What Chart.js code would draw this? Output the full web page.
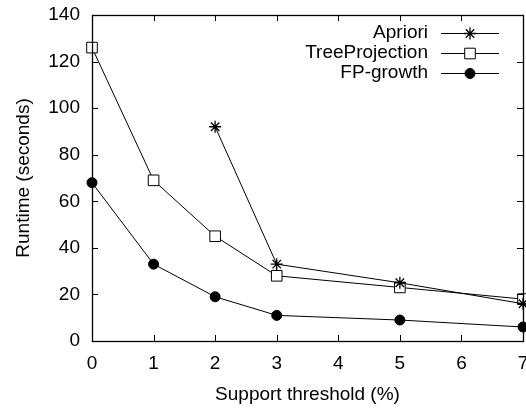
<!DOCTYPE html>
<html>
<head>
<meta charset="utf-8">
<script src="https://cdn.jsdelivr.net/npm/chart.js@4"></script>
<style>
  html, body { margin: 0; padding: 0; background: #fff; }
  #wrap { width: 526px; height: 408px; }
</style>
</head>
<body>
<div id="wrap"><canvas id="grafico" width="526" height="408"></canvas></div>
<script>
// datos
var seriesNames = ['Apriori', 'TreeProjection', 'FP-growth'];
var supportApriori = [2, 3, 5, 7];
var runtimeApriori = [92, 33, 25, 16];
var supportAll = [0, 1, 2, 3, 5, 7];
var runtimeTree = [126, 69, 45, 28, 23, 18];
var runtimeFP = [68, 33, 19, 11, 9, 6];
var xTicks = [0, 1, 2, 3, 4, 5, 6, 7];
var yTicks = [0, 20, 40, 60, 80, 100, 120, 140];

function pares(xs, ys) {
  return xs.map(function (x, i) { return { x: x, y: ys[i] }; });
}

var fuente = 'Liberation Sans, Arial, Helvetica, sans-serif';
var tamLetra = 19;

// sin relleno extra por las etiquetas de los extremos
function sinPadding() { return { left: 0, top: 0, right: 0, bottom: 0 }; }

// marco + ticks hacia adentro (como gnuplot)
var marcoPlugin = {
  id: 'marco',
  afterDraw: function (chart) {
    var ctx = chart.ctx;
    var a = chart.chartArea;
    var sx = chart.scales.x, sy = chart.scales.y;
    var largo = 6;
    ctx.save();
    ctx.strokeStyle = '#000';
    ctx.lineWidth = 1;
    ctx.beginPath();
    xTicks.forEach(function (v) {
      var px = Math.round(sx.getPixelForValue(v)) + 0.5;
      ctx.moveTo(px, a.bottom); ctx.lineTo(px, a.bottom - largo);
      ctx.moveTo(px, a.top); ctx.lineTo(px, a.top + largo);
    });
    yTicks.forEach(function (v) {
      var py = Math.round(sy.getPixelForValue(v)) + 0.5;
      ctx.moveTo(a.left, py); ctx.lineTo(a.left + largo, py);
      ctx.moveTo(a.right, py); ctx.lineTo(a.right - largo, py);
    });
    ctx.stroke();
    ctx.lineWidth = 1.3;
    ctx.strokeRect(Math.round(a.left) + 0.5, Math.round(a.top) + 0.5,
      Math.round(a.right - a.left), Math.round(a.bottom - a.top));
    ctx.restore();
  }
};

// leyenda estilo gnuplot: texto a la derecha, muestra a la derecha
var leyendaPlugin = {
  id: 'leyendaGnuplot',
  afterDraw: function (chart) {
    var ctx = chart.ctx;
    var textoX = 428, lineaIni = 441, lineaFin = 499, marcaX = 470;
    var y0 = 33, paso = 20;
    ctx.save();
    ctx.font = tamLetra + 'px ' + fuente;
    ctx.textAlign = 'right';
    ctx.textBaseline = 'middle';
    chart.data.datasets.forEach(function (ds, i) {
      var y = y0 + i * paso;
      ctx.fillStyle = '#000';
      ctx.fillText(ds.label, textoX, y);
      ctx.strokeStyle = '#000';
      ctx.lineWidth = 1;
      ctx.beginPath();
      ctx.moveTo(lineaIni, y + 0.5);
      ctx.lineTo(lineaFin, y + 0.5);
      ctx.stroke();
      ctx.fillStyle = ds.pointBackgroundColor;
      ctx.lineWidth = ds.pointBorderWidth;
      Chart.helpers.drawPoint(ctx, {
        pointStyle: ds.pointStyle,
        radius: ds.pointRadius,
        rotation: 0,
        borderWidth: ds.pointBorderWidth
      }, marcaX, y + 0.5);
    });
    ctx.restore();
  }
};

new Chart(document.getElementById('grafico'), {
  type: 'line',
  data: {
    datasets: [
      {
        label: seriesNames[0],
        data: pares(supportApriori, runtimeApriori),
        borderColor: '#000',
        borderWidth: 1,
        pointStyle: 'star',
        pointRadius: 6,
        pointBorderColor: '#000',
        pointBackgroundColor: '#000',
        pointBorderWidth: 1.3,
        clip: false
      },
      {
        label: seriesNames[1],
        data: pares(supportAll, runtimeTree),
        borderColor: '#000',
        borderWidth: 1,
        pointStyle: 'rect',
        pointRadius: 7.5,
        pointBorderColor: '#000',
        pointBackgroundColor: '#fff',
        pointBorderWidth: 1,
        clip: false
      },
      {
        label: seriesNames[2],
        data: pares(supportAll, runtimeFP),
        borderColor: '#000',
        borderWidth: 1,
        pointStyle: 'circle',
        pointRadius: 5,
        pointBorderColor: '#000',
        pointBackgroundColor: '#000',
        pointBorderWidth: 1,
        clip: false
      }
    ]
  },
  options: {
    responsive: false,
    animation: false,
    layout: { autoPadding: false, padding: { left: 0, right: 3, top: 15, bottom: 0 } },
    plugins: {
      legend: { display: false },
      tooltip: { enabled: false }
    },
    scales: {
      x: {
        type: 'linear',
        min: 0,
        max: 7,
        grid: { display: false, drawTicks: false },
        border: { display: false },
        afterBuildTicks: function (s) {
          s.ticks = xTicks.map(function (v) { return { value: v }; });
          s.getPadding = sinPadding;
        },
        afterFit: function (s) { s.height = 67; s.paddingLeft = 0; s.paddingRight = 0; },
        ticks: {
          color: '#000',
          padding: 11,
          maxRotation: 0,
          font: { family: fuente, size: tamLetra }
        },
        title: {
          display: true,
          text: 'Support threshold (%)',
          color: '#000',
          padding: { top: 0, bottom: 2 },
          font: { family: fuente, size: tamLetra }
        }
      },
      y: {
        type: 'linear',
        min: 0,
        max: 140,
        grid: { display: false, drawTicks: false },
        border: { display: false },
        afterBuildTicks: function (s) {
          s.ticks = yTicks.map(function (v) { return { value: v }; });
          s.getPadding = sinPadding;
        },
        afterFit: function (s) { s.width = 92; s.paddingTop = 0; s.paddingBottom = 0; },
        ticks: {
          color: '#000',
          padding: 12,
          font: { family: fuente, size: tamLetra }
        },
        title: {
          display: true,
          text: 'Runtime (seconds)',
          color: '#000',
          padding: { top: 12, bottom: 0 },
          font: { family: fuente, size: tamLetra }
        }
      }
    }
  },
  plugins: [marcoPlugin, leyendaPlugin]
});
</script>
</body>
</html>
